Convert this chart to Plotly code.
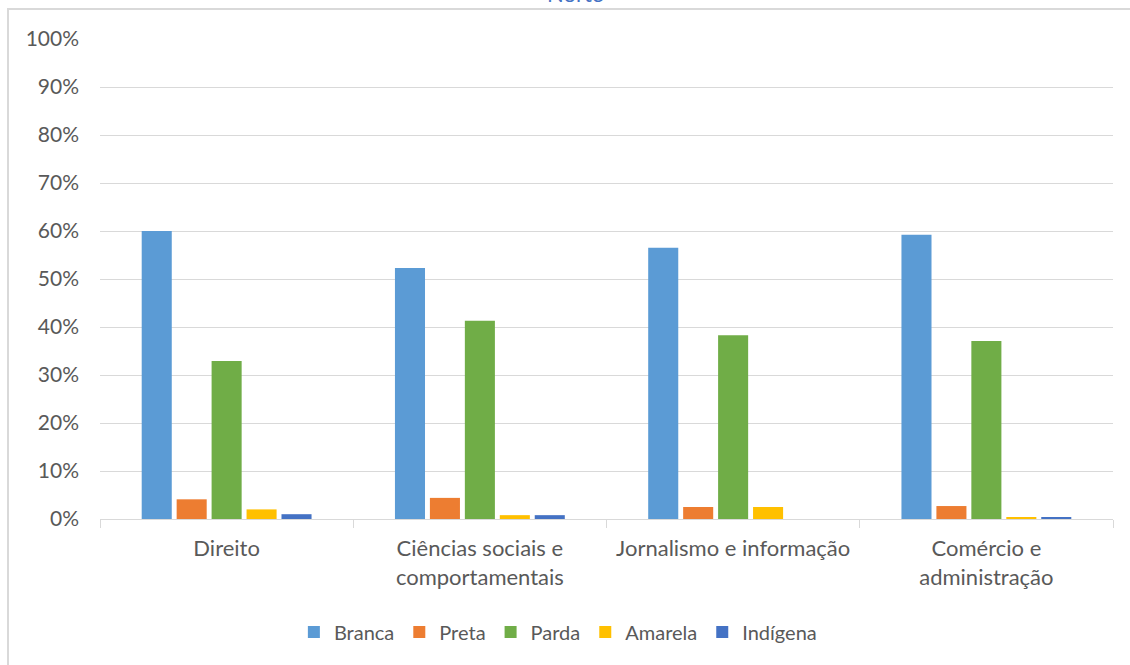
import plotly.graph_objects as go

categories = ["Direito", "Ciências sociais e<br>comportamentais",
              "Jornalismo e informação", "Comércio e<br>administração"]
branca = [0.600, 0.523, 0.565, 0.592]
preta = [0.041, 0.044, 0.025, 0.027]
parda = [0.329, 0.413, 0.383, 0.371]
amarela = [0.020, 0.008, 0.025, 0.004]
indigena = [0.010, 0.008, 0.0, 0.003]

series = [
    ("Branca", branca, "#5B9BD5"),
    ("Preta", preta, "#ED7D31"),
    ("Parda", parda, "#70AD47"),
    ("Amarela", amarela, "#FFC000"),
    ("Indígena", indigena, "#4472C4"),
]

font_name = "Lato"
grey = "#595959"

fig = go.Figure()
for name, vals, color in series:
    fig.add_trace(go.Bar(name=name, x=categories, y=vals, marker_color=color,
                         marker_line_width=0))

fig.update_layout(
    width=1130, height=665,
    margin=dict(l=100, r=17, t=39, b=146),
    barmode="group", bargap=0.31, bargroupgap=0.14,
    plot_bgcolor="white", paper_bgcolor="white",
    font=dict(family=font_name, size=21, color=grey),
    legend=dict(orientation="h", x=0.452, xanchor="center", y=-0.195, yanchor="top",
                font=dict(size=20, color=grey), itemwidth=30,
                traceorder="normal"),
    showlegend=True,
)

fig.update_yaxes(range=[0, 1], dtick=0.1, tickformat=".0%", gridcolor="#D9D9D9",
                 gridwidth=1, zeroline=False, showline=False, ticks="",
                 ticklabelstandoff=20)
fig.update_xaxes(showline=True, linecolor="#D9D9D9", linewidth=1,
                 ticks="outside", tickson="boundaries", ticklen=8,
                 tickcolor="#D9D9D9", ticklabelstandoff=10,
                 tickfont=dict(size=22))

# chart border (cropped on right and bottom)
fig.add_shape(type="rect", xref="paper", yref="paper",
              x0=-92 / 1013, x1=1.1, y0=-0.5, y1=1 + 30 / 480,
              line=dict(color="#D9D9D9", width=2), fillcolor="rgba(0,0,0,0)",
              layer="below")

# title, mostly cut off at the top (as in the source image)
fig.add_annotation(text="Norte", xref="paper", yref="paper",
                   x=(575 - 100) / 1013, y=1 + 30.5 / 480, xanchor="center",
                   yanchor="bottom", showarrow=False,
                   font=dict(size=22, color="#4472C4", family=font_name))

fig.write_html("out.html", config={"displayModeBar": False},
               post_script="document.body.style.margin='0';")
